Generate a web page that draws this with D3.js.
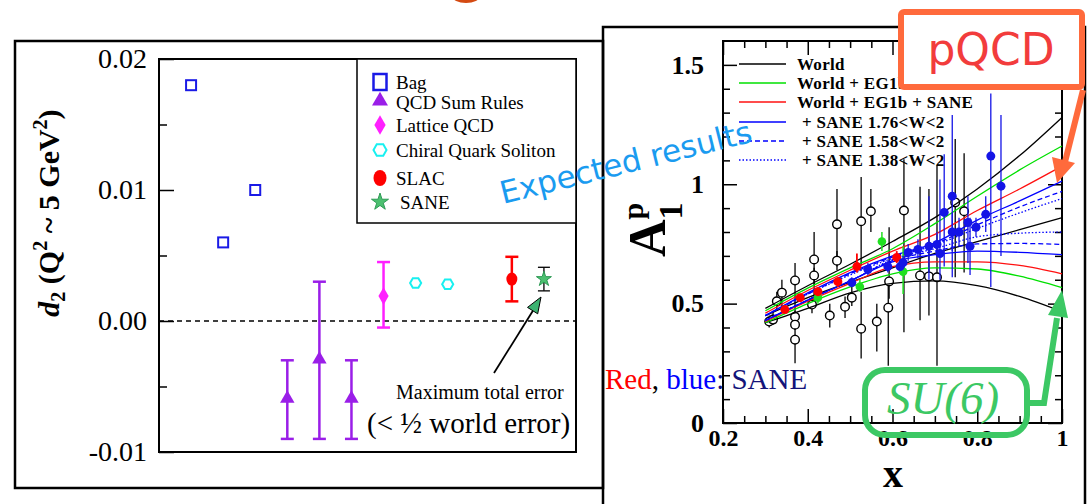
<!DOCTYPE html>
<html>
<head>
<meta charset="utf-8">
<script src="https://cdn.jsdelivr.net/npm/d3@7"></script>
<style>
  body { margin: 0; background: #fff; }
  svg { display: block; }
</style>
</head>
<body>
<svg width="1087" height="504"></svg>
<script>
(function (d3) {
  "use strict";

  // ---- left panel: d2 at Q^2 ~ 5 GeV^2 ----
  const leftLegend = ["Bag", "QCD Sum Rules", "Lattice QCD", "Chiral Quark Soliton", "SLAC", "SANE"];
  const bagPos = [1, 2, 3];
  const bagVal = [0.018, 0.006, 0.010];
  const qcdPos = [4, 5, 6];
  const qcdVal = [-0.006, -0.003, -0.006];
  const qcdLow = [-0.009, -0.009, -0.009];
  const qcdHigh = [-0.003, 0.003, -0.003];
  const latticePos = [7];
  const latticeVal = [0.0019];
  const latticeLow = [-0.0005];
  const latticeHigh = [0.0045];
  const chiralPos = [8, 9];
  const chiralVal = [0.0029, 0.0028];
  const slacPos = [11];
  const slacVal = [0.0032];
  const slacLow = [0.0015];
  const slacHigh = [0.0049];
  const sanePos = [12];
  const saneVal = [0.0032];
  const saneLow = [0.0023];
  const saneHigh = [0.0041];
  const d2Ticks = [-0.01, 0, 0.01, 0.02];
  const d2TickLabels = ["-0.01", "0.00", "0.01", "0.02"];
  const d2MinorTicks = [-0.005, 0.005, 0.015];

  // ---- right panel: A1p vs x ----
  const fitLegend = ["World", "World + EG1b", "World + EG1b + SANE", "+ SANE 1.76<W<2", "+ SANE 1.58<W<2", "+ SANE 1.38<W<2"];
  const fitX = [0.3, 0.4, 0.5, 0.6, 0.7, 0.8, 0.9, 1.0];
  const worldHi = [0.48, 0.575, 0.665, 0.76, 0.86, 0.98, 1.12, 1.28];
  const worldMid = [0.45, 0.525, 0.59, 0.65, 0.71, 0.76, 0.81, 0.86];
  const worldLo = [0.42, 0.48, 0.545, 0.585, 0.595, 0.575, 0.53, 0.466];
  const eg1bHi = [0.47, 0.565, 0.65, 0.73, 0.835, 0.95, 1.06, 1.16];
  const eg1bLo = [0.42, 0.50, 0.57, 0.625, 0.65, 0.645, 0.615, 0.567];
  const saneFitHi = [0.46, 0.555, 0.64, 0.72, 0.79, 0.89, 0.98, 1.076];
  const saneFitLo = [0.425, 0.51, 0.585, 0.655, 0.675, 0.675, 0.66, 0.625];
  const w176Hi = [0.45, 0.545, 0.63, 0.70, 0.755, 0.85, 0.93, 1.013];
  const w176Lo = [0.43, 0.515, 0.595, 0.675, 0.705, 0.72, 0.715, 0.705];
  const w158Hi = [0.45, 0.54, 0.625, 0.695, 0.75, 0.83, 0.905, 0.97];
  const w158Lo = [0.43, 0.515, 0.595, 0.68, 0.72, 0.75, 0.752, 0.748];
  const w138Hi = [0.45, 0.54, 0.62, 0.69, 0.745, 0.815, 0.88, 0.94];
  const w138Lo = [0.43, 0.515, 0.595, 0.685, 0.73, 0.78, 0.795, 0.80];

  const worldX = [0.309, 0.318, 0.327, 0.339, 0.370, 0.370, 0.370, 0.370, 0.410, 0.415, 0.415, 0.452, 0.469, 0.469, 0.488, 0.504, 0.526, 0.526, 0.549, 0.563, 0.590, 0.592, 0.627, 0.665, 0.686, 0.705, 0.748, 0.769];
  const worldY = [0.425, 0.433, 0.510, 0.546, 0.597, 0.445, 0.412, 0.349, 0.496, 0.685, 0.618, 0.450, 0.832, 0.680, 0.487, 0.525, 0.845, 0.395, 0.887, 0.425, 0.483, 0.593, 0.890, 0.618, 0.614, 0.610, 0.924, 0.887];
  const worldErrLo = [0.40, 0.41, 0.47, 0.49, 0.25, 0.42, 0.39, 0.33, 0.46, 0.49, 0.58, 0.40, 0.655, 0.64, 0.44, 0.49, 0.66, 0.27, 0.80, 0.30, 0.24, 0.52, 0.38, 0.43, 0.45, 0.24, 0.61, 0.63];
  const worldErrHi = [0.45, 0.47, 0.55, 0.60, 0.67, 0.47, 0.43, 0.37, 0.53, 0.80, 0.65, 0.50, 0.98, 0.72, 0.53, 0.57, 1.03, 0.55, 0.98, 0.50, 0.60, 0.82, 1.105, 0.99, 0.98, 1.08, 1.19, 1.13];

  const eg1bX = [0.424, 0.523, 0.575, 0.625];
  const eg1bY = [0.525, 0.571, 0.760, 0.634];
  const eg1bErrLo = [0.50, 0.55, 0.72, 0.54];
  const eg1bErrHi = [0.55, 0.60, 0.80, 0.74];

  const redX = [0.346, 0.382, 0.424, 0.471, 0.516, 0.610];
  const redY = [0.475, 0.525, 0.550, 0.592, 0.655, 0.693];
  const redErrLo = [0.46, 0.51, 0.53, 0.57, 0.63, 0.67];
  const redErrHi = [0.49, 0.54, 0.57, 0.61, 0.71, 0.72];

  const blueX = [0.504, 0.542, 0.589, 0.618, 0.625, 0.637, 0.660, 0.686, 0.705, 0.712, 0.722, 0.741, 0.741, 0.757, 0.778, 0.783, 0.797, 0.820, 0.832, 0.856];
  const blueY = [0.588, 0.643, 0.655, 0.655, 0.672, 0.714, 0.727, 0.740, 0.748, 0.710, 0.882, 0.950, 0.800, 0.800, 0.840, 0.740, 0.820, 0.874, 1.118, 0.992];
  const blueErrLo = [0.57, 0.62, 0.63, 0.63, 0.64, 0.68, 0.69, 0.60, 0.70, 0.60, 0.655, 0.61, 0.72, 0.74, 0.67, 0.62, 0.78, 0.80, 0.57, 0.70];
  const blueErrHi = [0.61, 0.67, 0.68, 0.68, 0.70, 0.75, 0.77, 0.95, 0.80, 1.02, 1.126, 1.29, 0.88, 0.86, 0.95, 0.86, 0.86, 0.95, 1.38, 1.29];

  const xTicks = [0.2, 0.4, 0.6, 0.8, 1];
  const xTickLabels = ["0.2", "0.4", "0.6", "0.8", "1"];
  const yTicks = [0, 0.5, 1, 1.5];
  const yTickLabels = ["0", "0.5", "1", "1.5"];

  const serif = "'Liberation Serif', 'Times New Roman', serif";
  const sans = "'DejaVu Sans', sans-serif";

  const svg = d3.select("svg");

  // ================= LEFT PANEL =================
  svg.append("rect").attr("x", 15).attr("y", 41).attr("width", 588).attr("height", 447)
    .attr("fill", "none").attr("stroke", "#000").attr("stroke-width", 2.5);

  const lx = d3.scaleLinear().domain([0, 13]).range([159, 576]);
  const ly = d3.scaleLinear().domain([-0.01, 0.02]).range([452, 59]);

  const L = svg.append("g");

  // zero line
  L.append("line").attr("x1", lx(0)).attr("x2", lx(13)).attr("y1", ly(0)).attr("y2", ly(0))
    .attr("stroke", "#000").attr("stroke-width", 1.5).attr("stroke-dasharray", "5,4");

  const leftAxis = L.append("g").attr("transform", `translate(${lx(0)},0)`)
    .call(d3.axisLeft(ly).tickValues(d2Ticks).tickSize(-15).tickPadding(12)
      .tickFormat((d, i) => d2TickLabels[i]));
  leftAxis.select(".domain").remove();
  leftAxis.attr("font-family", serif).attr("font-size", 28);
  leftAxis.selectAll("line").attr("stroke-width", 1.5);

  const leftMinor = L.append("g").attr("transform", `translate(${lx(0)},0)`)
    .call(d3.axisLeft(ly).tickValues(d2MinorTicks).tickSize(-8).tickFormat(""));
  leftMinor.select(".domain").remove();
  leftMinor.selectAll("line").attr("stroke-width", 1.5);

  L.append("rect").attr("x", lx(0)).attr("y", ly(0.02)).attr("width", lx(13) - lx(0)).attr("height", ly(-0.01) - ly(0.02))
    .attr("fill", "none").attr("stroke", "#000").attr("stroke-width", 2);

  // y label
  const d2Label = L.append("text").attr("transform", "translate(59,213) rotate(-90)")
    .attr("text-anchor", "middle").attr("font-family", serif).attr("font-weight", "bold").attr("font-size", 30);
  d2Label.append("tspan").attr("font-style", "italic").text("d");
  d2Label.append("tspan").attr("font-size", 20).attr("dy", 6).text("2");
  d2Label.append("tspan").attr("dy", -6).text(" (Q");
  d2Label.append("tspan").attr("font-size", 20).attr("dy", -12).text("2");
  d2Label.append("tspan").attr("dy", 12).text(" ~ 5 GeV");
  d2Label.append("tspan").attr("font-size", 20).attr("dy", -12).text("2");
  d2Label.append("tspan").attr("dy", 12).text(")");

  const hexagon = {
    draw(context, size) {
      const r = Math.sqrt(size / 2.6);
      for (let k = 0; k < 6; k++) {
        const a = Math.PI / 3 * k;
        const px = r * Math.cos(a), py = r * Math.sin(a);
        if (k === 0) context.moveTo(px, py); else context.lineTo(px, py);
      }
      context.closePath();
    }
  };

  const errBars = (g, pos, lo, hi, color, width, cap) => {
    pos.forEach((p, i) => {
      const x = lx(p);
      g.append("line").attr("x1", x).attr("x2", x).attr("y1", ly(lo[i])).attr("y2", ly(hi[i]))
        .attr("stroke", color).attr("stroke-width", width);
      [lo[i], hi[i]].forEach((v) => {
        g.append("line").attr("x1", x - cap).attr("x2", x + cap).attr("y1", ly(v)).attr("y2", ly(v))
          .attr("stroke", color).attr("stroke-width", width);
      });
    });
  };

  const purple = "#9a1ee8";
  const magenta = "#ff20ff";
  errBars(L, qcdPos, qcdLow, qcdHigh, purple, 2.5, 6.5);
  errBars(L, latticePos, latticeLow, latticeHigh, magenta, 2.5, 6.5);
  errBars(L, slacPos, slacLow, slacHigh, "#ff0000", 2.5, 6.5);
  errBars(L, sanePos, saneLow, saneHigh, "#000", 1.3, 6);

  L.selectAll(".bag").data(bagPos).enter().append("rect").attr("class", "bag")
    .attr("x", (d) => lx(d) - 5).attr("y", (d, i) => ly(bagVal[i]) - 5).attr("width", 10).attr("height", 10)
    .attr("fill", "#fff").attr("stroke", "#1a1ae6").attr("stroke-width", 2);

  L.selectAll(".qcd").data(qcdPos).enter().append("path").attr("class", "qcd")
    .attr("transform", (d, i) => `translate(${lx(d)},${ly(qcdVal[i]) - 1})`)
    .attr("d", d3.symbol(d3.symbolTriangle, 90)()).attr("fill", purple);

  L.selectAll(".lat").data(latticePos).enter().append("path").attr("class", "lat")
    .attr("transform", (d, i) => `translate(${lx(d)},${ly(latticeVal[i])})`)
    .attr("d", d3.symbol(d3.symbolDiamond, 90)()).attr("fill", magenta);

  L.selectAll(".chi").data(chiralPos).enter().append("path").attr("class", "chi")
    .attr("transform", (d, i) => `translate(${lx(d)},${ly(chiralVal[i])})`)
    .attr("d", d3.symbol(hexagon, 80)()).attr("fill", "#fff").attr("stroke", "#18f0f0").attr("stroke-width", 2);

  L.selectAll(".slac").data(slacPos).enter().append("ellipse").attr("class", "slac")
    .attr("cx", (d) => lx(d)).attr("cy", (d, i) => ly(slacVal[i])).attr("rx", 5.5).attr("ry", 6.5).attr("fill", "#ff0000");

  L.selectAll(".sane").data(sanePos).enter().append("path").attr("class", "sane")
    .attr("transform", (d, i) => `translate(${lx(d)},${ly(saneVal[i])})`)
    .attr("d", d3.symbol(d3.symbolStar, 70)()).attr("fill", "#4cc070").attr("stroke", "#2e9a55").attr("stroke-width", 1);

  // legend
  const legG = L.append("g");
  legG.append("rect").attr("x", 357).attr("y", 59).attr("width", 219).attr("height", 164)
    .attr("fill", "#fff").attr("stroke", "#000").attr("stroke-width", 1.5);
  const legRows = [82, 102, 125, 150, 178, 202];
  const symX = 380;
  legG.append("rect").attr("x", symX - 6.5).attr("y", legRows[0] - 8).attr("width", 13).attr("height", 16)
    .attr("fill", "none").attr("stroke", "#1a1ae6").attr("stroke-width", 2.5);
  legG.append("path").attr("transform", `translate(${symX},${legRows[1] - 1})`)
    .attr("d", d3.symbol(d3.symbolTriangle, 110)()).attr("fill", purple);
  legG.append("path").attr("transform", `translate(${symX},${legRows[2]})`)
    .attr("d", d3.symbol(d3.symbolDiamond, 110)()).attr("fill", magenta);
  legG.append("path").attr("transform", `translate(${symX},${legRows[3]})`)
    .attr("d", d3.symbol(hexagon, 110)()).attr("fill", "none").attr("stroke", "#18f0f0").attr("stroke-width", 2);
  legG.append("ellipse").attr("cx", symX).attr("cy", legRows[4]).attr("rx", 6.5).attr("ry", 8).attr("fill", "#ff0000");
  legG.append("path").attr("transform", `translate(${symX},${legRows[5]})`)
    .attr("d", d3.symbol(d3.symbolStar, 90)()).attr("fill", "#4cc070").attr("stroke", "#2e9a55");
  legG.selectAll(".lt").data(leftLegend).enter().append("text").attr("class", "lt")
    .attr("x", (d, i) => (i === 5 ? 400 : 396)).attr("y", (d, i) => legRows[i] + 7)
    .attr("font-family", serif).attr("font-size", 19).text((d) => d);

  // annotation arrow and text
  L.append("line").attr("x1", 494).attr("y1", 373).attr("x2", 534).attr("y2", 309)
    .attr("stroke", "#000").attr("stroke-width", 1.8);
  L.append("polygon").attr("points", "541,297 537.7,313.8 527.5,307.4")
    .attr("fill", "#3cb371").attr("stroke", "#000").attr("stroke-width", 1);
  L.append("text").attr("x", 396).attr("y", 399).attr("font-family", serif).attr("font-size", 20)
    .text("Maximum total error");
  L.append("text").attr("x", 367).attr("y", 433).attr("font-family", serif).attr("font-size", 29)
    .text("(< ½ world error)");

  // ================= RIGHT PANEL =================
  svg.append("path").attr("d", "M603,504V27H1085V504").attr("fill", "none")
    .attr("stroke", "#000").attr("stroke-width", 2.5);

  const rx = d3.scaleLinear().domain([0.2, 1]).range([723, 1062]);
  const ry = d3.scaleLinear().domain([0, 1.6]).range([423, 41]);
  const R = svg.append("g");

  const minorX = d3.range(0.25, 1.0, 0.05).filter((v) => Math.abs(v / 0.2 - Math.round(v / 0.2)) > 0.01);
  const minorY = d3.range(0.1, 1.6, 0.1).filter((v) => Math.abs(v / 0.5 - Math.round(v / 0.5)) > 0.01);

  const addAxis = (axis, tf, vals, size) => {
    const g = R.append("g").attr("transform", tf).call(axis.tickValues(vals).tickSize(size).tickFormat(""));
    g.select(".domain").remove();
    g.selectAll("line").attr("stroke-width", 1.5);
    return g;
  };
  addAxis(d3.axisTop(rx), `translate(0,${ry(1.6)})`, xTicks, -14);
  addAxis(d3.axisTop(rx), `translate(0,${ry(1.6)})`, minorX, -7);
  addAxis(d3.axisBottom(rx), `translate(0,${ry(0)})`, minorX, -7);
  addAxis(d3.axisLeft(ry), `translate(${rx(0.2)},0)`, minorY, -7);
  addAxis(d3.axisRight(ry), `translate(${rx(1)},0)`, yTicks, -14);
  addAxis(d3.axisRight(ry), `translate(${rx(1)},0)`, minorY, -7);

  const xAxisG = R.append("g").attr("transform", `translate(0,${ry(0)})`)
    .call(d3.axisBottom(rx).tickValues(xTicks).tickSize(-14).tickPadding(6).tickFormat((d, i) => xTickLabels[i]));
  xAxisG.select(".domain").remove();
  xAxisG.selectAll("line").attr("stroke-width", 1.5);
  xAxisG.attr("font-family", serif).attr("font-size", 24).attr("font-weight", "bold");

  const yAxisG = R.append("g").attr("transform", `translate(${rx(0.2)},0)`)
    .call(d3.axisLeft(ry).tickValues(yTicks).tickSize(-14).tickPadding(19).tickFormat((d, i) => yTickLabels[i]));
  yAxisG.select(".domain").remove();
  yAxisG.selectAll("line").attr("stroke-width", 1.5);
  yAxisG.attr("font-family", serif).attr("font-size", 26).attr("font-weight", "bold");

  R.append("rect").attr("x", rx(0.2)).attr("y", ry(1.6)).attr("width", rx(1) - rx(0.2)).attr("height", ry(0) - ry(1.6))
    .attr("fill", "none").attr("stroke", "#000").attr("stroke-width", 2);

  // axis titles
  const aLabel = R.append("text").attr("transform", "translate(665,257) rotate(-90)")
    .attr("font-family", serif).attr("font-weight", "bold");
  aLabel.append("tspan").attr("font-size", 52).text("A");
  aLabel.append("tspan").attr("font-size", 34).attr("dy", 17).text("1");
  aLabel.append("tspan").attr("font-size", 30).attr("dx", -17).attr("dy", -39).text("p");
  R.append("text").attr("x", 893).attr("y", 487).attr("text-anchor", "middle")
    .attr("font-family", serif).attr("font-weight", "bold").attr("font-size", 40).text("x");

  // world data
  const errV = (g, xs, lo, hi, color, w) => {
    g.selectAll(null).data(xs).enter().append("line")
      .attr("x1", (d) => rx(d)).attr("x2", (d) => rx(d))
      .attr("y1", (d, i) => ry(lo[i])).attr("y2", (d, i) => ry(hi[i]))
      .attr("stroke", color).attr("stroke-width", w);
  };
  const dataG = R.append("g");
  errV(dataG, worldX, worldErrLo, worldErrHi, "#000", 1.3);
  dataG.selectAll(".w").data(worldX).enter().append("circle").attr("class", "w")
    .attr("cx", (d) => rx(d)).attr("cy", (d, i) => ry(worldY[i])).attr("r", 4.3)
    .attr("fill", "#fff").attr("stroke", "#000").attr("stroke-width", 1.4);

  // fits
  const line = (ys) => d3.line().x((d) => rx(d)).y((d, i) => ry(ys[i])).curve(d3.curveMonotoneX)(fitX);
  const fits = [
    [worldHi, "#000", null], [worldMid, "#000", null], [worldLo, "#000", null],
    [eg1bHi, "#00e000", null], [eg1bLo, "#00e000", null],
    [saneFitHi, "#ff1010", null], [saneFitLo, "#ff1010", null],
    [w176Hi, "#0000ff", null], [w176Lo, "#0000ff", null],
    [w158Hi, "#0000ff", "5,3"], [w158Lo, "#0000ff", "5,3"],
    [w138Hi, "#0000ff", "1.5,2"], [w138Lo, "#0000ff", "1.5,2"]
  ];
  fits.forEach(([ys, c, dash]) => {
    R.append("path").attr("d", line(ys)).attr("fill", "none").attr("stroke", c)
      .attr("stroke-width", 1.3).attr("stroke-dasharray", dash);
  });

  // colored data
  const colG = R.append("g");
  errV(colG, eg1bX, eg1bErrLo, eg1bErrHi, "#20e020", 1.5);
  errV(colG, redX, redErrLo, redErrHi, "#ff0000", 1.8);
  errV(colG, blueX, blueErrLo, blueErrHi, "#1414e6", 1.3);
  colG.selectAll(".g").data(eg1bX).enter().append("circle").attr("class", "g")
    .attr("cx", (d) => rx(d)).attr("cy", (d, i) => ry(eg1bY[i])).attr("r", 4.3).attr("fill", "#20e020");
  colG.selectAll(".r").data(redX).enter().append("circle").attr("class", "r")
    .attr("cx", (d) => rx(d)).attr("cy", (d, i) => ry(redY[i])).attr("r", 4.5).attr("fill", "#ff0000");
  colG.selectAll(".b").data(blueX).enter().append("circle").attr("class", "b")
    .attr("cx", (d) => rx(d)).attr("cy", (d, i) => ry(blueY[i])).attr("r", 4.5).attr("fill", "#1414e6");

  // fit legend
  const fitRows = [64, 83, 102, 122, 141, 160];
  const fitColors = ["#000", "#00e000", "#ff1010", "#0000ff", "#0000ff", "#0000ff"];
  const fitDash = [null, null, null, null, "5,3", "1.5,2"];
  R.selectAll(".fl").data(fitLegend).enter().append("line").attr("class", "fl")
    .attr("x1", 739).attr("x2", 786).attr("y1", (d, i) => fitRows[i]).attr("y2", (d, i) => fitRows[i])
    .attr("stroke", (d, i) => fitColors[i]).attr("stroke-width", 1.5).attr("stroke-dasharray", (d, i) => fitDash[i]);
  R.selectAll(".ft").data(fitLegend).enter().append("text").attr("class", "ft")
    .attr("x", (d, i) => (i < 3 ? 797 : 802)).attr("y", (d, i) => fitRows[i] + 6)
    .attr("font-family", serif).attr("font-weight", "bold").attr("font-size", 17)
    .attr("letter-spacing", 0.3).text((d) => d);

  // ================= OVERLAY ANNOTATIONS =================
  const A = svg.append("g");
  A.append("ellipse").attr("cx", 466).attr("cy", -4).attr("rx", 14).attr("ry", 7).attr("fill", "#d44a12");

  A.append("text").attr("transform", "translate(503,204) rotate(-14)")
    .attr("font-family", sans).attr("font-size", 31).attr("fill", "#1a9bf0").text("Expected results");

  A.append("text").attr("x", 605).attr("y", 389).attr("font-family", serif).attr("font-size", 29)
    .call((t) => {
      t.append("tspan").attr("fill", "#ff0000").text("Red");
      t.append("tspan").attr("fill", "#000").text(", ");
      t.append("tspan").attr("fill", "#0000ff").text("blue");
      t.append("tspan").attr("fill", "#14147a").text(": SANE");
    });

  // pQCD
  const orange = "#ff6a3c";
  A.append("rect").attr("x", 901).attr("y", 12).attr("width", 181).attr("height", 75).attr("rx", 3)
    .attr("fill", "#fff").attr("stroke", orange).attr("stroke-width", 6);
  A.append("text").attr("x", 991).attr("y", 65).attr("text-anchor", "middle")
    .attr("font-family", sans).attr("font-size", 44).attr("fill", "#f23c3c").text("pQCD");
  A.append("line").attr("x1", 1083).attr("y1", 90).attr("x2", 1065).attr("y2", 162)
    .attr("stroke", orange).attr("stroke-width", 6);
  A.append("polygon").attr("points", "1057,183 1075,163 1052,157").attr("fill", orange);

  // SU(6)
  const green = "#3cc864";
  A.append("path").attr("d", "M1028,403H1044L1057,318").attr("fill", "none")
    .attr("stroke", green).attr("stroke-width", 6);
  A.append("polygon").attr("points", "1062,290 1068,318 1048,315").attr("fill", green);
  A.append("rect").attr("x", 865).attr("y", 370).attr("width", 162).attr("height", 65).attr("rx", 20)
    .attr("fill", "none").attr("stroke", green).attr("stroke-width", 6);
  A.append("text").attr("x", 943).attr("y", 414).attr("text-anchor", "middle")
    .attr("font-family", serif).attr("font-style", "italic").attr("font-size", 47).attr("fill", green).text("SU(6)");
})(d3);
</script>
</body>
</html>
